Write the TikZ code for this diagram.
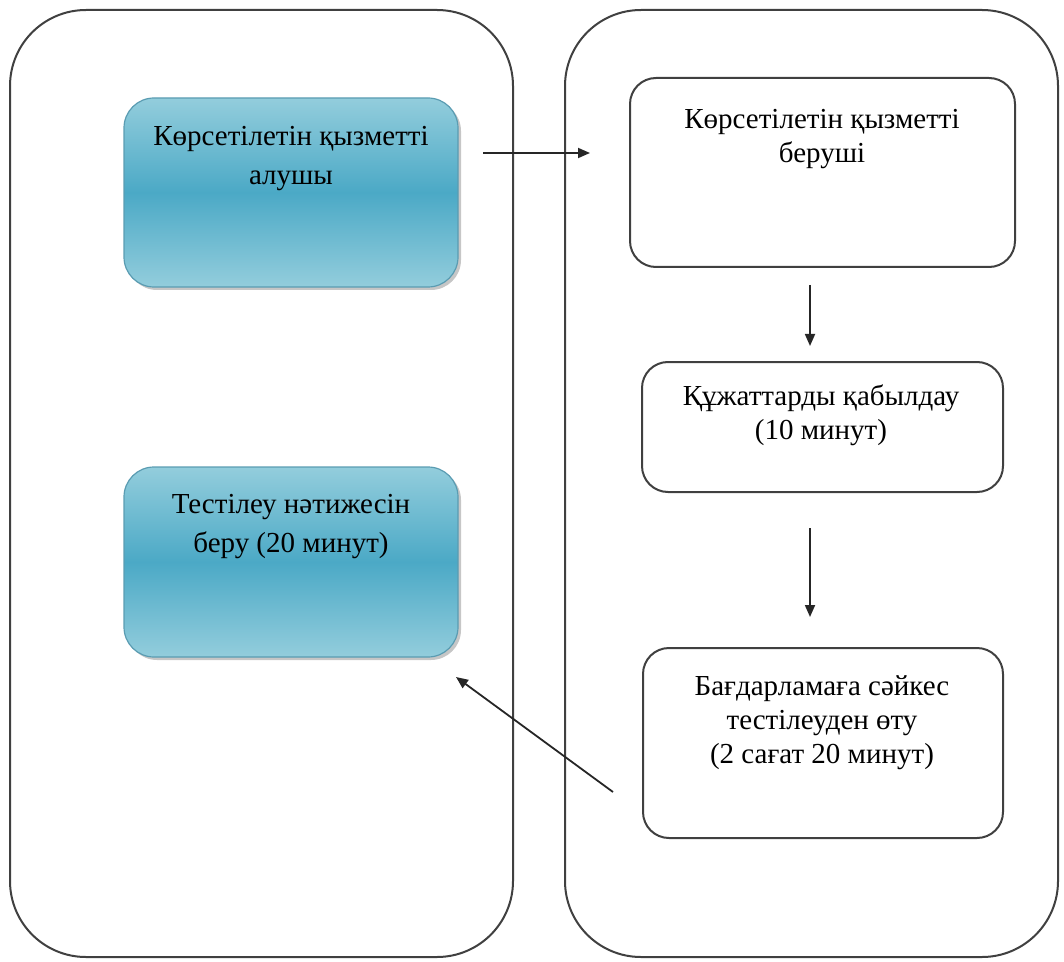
\documentclass[tikz,border=0pt]{standalone}
\usepackage{fontspec}
\setmainfont{Liberation Serif}
\usetikzlibrary{arrows.meta,shadows}
\definecolor{blueA}{HTML}{93CDDC}
\definecolor{blueB}{HTML}{4BA9C6}
\definecolor{blueC}{HTML}{5A9CB2}

\begin{document}
\begin{tikzpicture}[x=0.5pt,y=-0.5pt,
    lane/.style={draw=black!75,line width=1pt,rounded corners=38pt},
    bluebox/.style={draw=blueC,line width=0.6pt,rounded corners=15pt,top color=blueA,bottom color=blueA,middle color=blueB,
      minimum width=167pt,drop shadow={shadow xshift=1.5pt,shadow yshift=-1.5pt,opacity=0.45}},
    whitebox/.style={draw=black!75,line width=1pt,rounded corners=13pt,fill=white},
    txt/.style={align=center,inner sep=0pt,font=\fontsize{14.5}{17}\selectfont},
    bluetxt/.style={txt,font=\fontsize{14.5}{19.5}\selectfont},
    arr/.style={-{Triangle[length=6pt,width=5pt]},line width=0.9pt,black!85}]
  \useasboundingbox (0,0) rectangle (1064,962);
  % two lanes
  \draw[lane] (10,10) rectangle (513,957);
  \draw[lane] (565,10) rectangle (1058,957);
  % boxes
  \node[bluebox,minimum height=94.5pt] (rcv) at (291,192.5) {};
  \node[bluebox,minimum height=95pt] (res) at (291,562) {};
  \node[whitebox,minimum width=192.5pt,minimum height=94.5pt] (prov) at (822.5,172.5) {};
  \node[whitebox,minimum width=180.5pt,minimum height=65pt] (docs) at (822.5,427) {};
  \node[whitebox,minimum width=180pt,minimum height=95pt] (test) at (823,743) {};
  % texts
  \node[bluetxt] (rcvtxt) at (291,159) {Көрсетілетін қызметті\\алушы};
  \node[bluetxt] (restxt) at (291,527) {Тестілеу нәтижесін\\беру (20 минут)};
  \node[txt] (provtxt) at (822,139) {Көрсетілетін қызметті\\беруші};
  \node[txt] (docstxt) at (821,415) {Құжаттарды қабылдау\\(10 минут)};
  \node[txt] (testtxt) at (822,723) {Бағдарламаға сәйкес\\тестілеуден өту\\(2 сағат 20 минут)};
  % arrows
  \coordinate (a1) at (483,153); \coordinate (b1) at (590,153);
  \coordinate (a2) at (810,285); \coordinate (b2) at (810,346);
  \coordinate (a3) at (810,528); \coordinate (b3) at (810,617);
  \coordinate (a4) at (613,792); \coordinate (b4) at (456,677);
  \draw[arr] (a1) -- (b1);
  \draw[arr] (a2) -- (b2);
  \draw[arr] (a3) -- (b3);
  \draw[arr] (a4) -- (b4);
\end{tikzpicture}
\end{document}
